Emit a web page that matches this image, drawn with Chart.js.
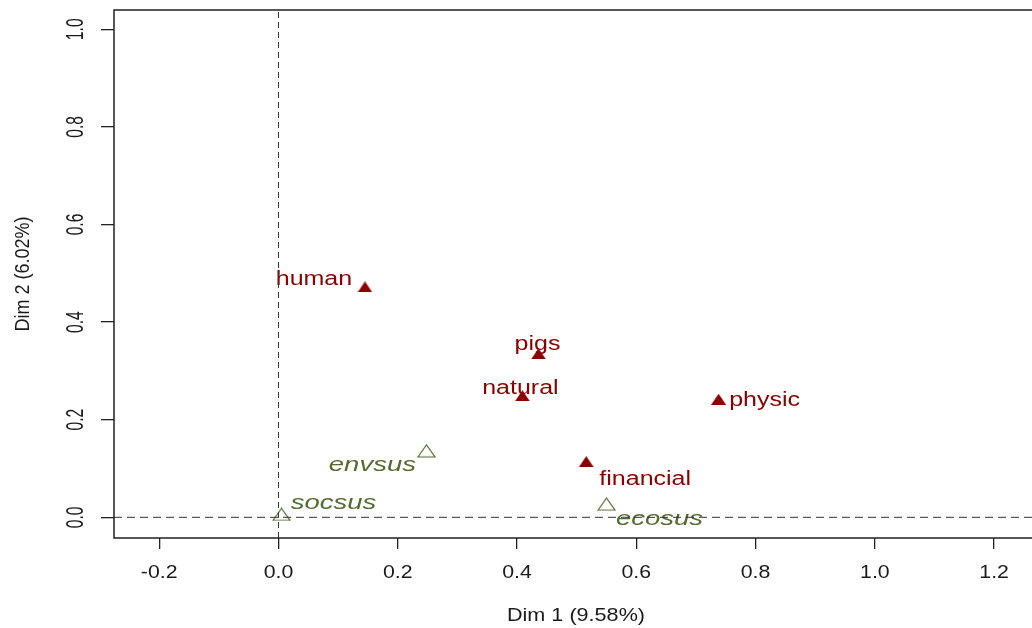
<!DOCTYPE html>
<html>
<head>
<meta charset="utf-8">
<script src="https://cdn.jsdelivr.net/npm/chart.js@4/dist/chart.umd.min.js"></script>
<style>
  html, body { margin: 0; padding: 0; background: #fff; overflow: hidden; }
  #wrap { position: relative; width: 1032px; height: 628px; }
</style>
</head>
<body>
<div id="wrap"><canvas id="c" width="1032" height="628"></canvas></div>
<script>
// Active variable categories (filled triangles)
const activeLabels = ['human', 'pigs', 'natural', 'financial', 'physic'];
const activeDim1 = [0.145, 0.436, 0.409, 0.516, 0.738];
const activeDim2 = [0.472, 0.335, 0.249, 0.114, 0.242];

// Supplementary variables (open triangles)
const suppLabels = ['envsus', 'socsus', 'ecosus'];
const suppDim1 = [0.248, 0.005, 0.550];
const suppDim2 = [0.136, 0.006, 0.027];

// Axis ticks and titles
const xTickValues = [-0.2, 0.0, 0.2, 0.4, 0.6, 0.8, 1.0, 1.2];
const yTickValues = [0.0, 0.2, 0.4, 0.6, 0.8, 1.0];
const xTitle = 'Dim 1 (9.58%)';
const yTitle = 'Dim 2 (6.02%)';

// Axis limits (the plot frame runs off the right edge of the canvas)
const X_MIN = -0.2758, X_MAX = 1.2635;
const Y_MIN = -0.0424, Y_MAX = 1.0395;

// Label placement relative to each marker (pixels, text baseline)
const activeLabelOffsets = [[-51, -2], [-1, -4], [-2, -2], [59, 23], [46, 7]];
const suppLabelOffsets = [[-54, 20], [52, -5], [53, 21]];

const RED = '#8B0000';
const GREEN = '#556B2F';
const INK = '#1a1a1a';
const FONT = '"Liberation Sans", Arial, sans-serif';

function triangleImage(w, h, fill, stroke, lw) {
  const pad = stroke ? 1 : 0;
  const c = document.createElement('canvas');
  c.width = w + 2 * pad; c.height = h + 2 * pad;
  const g = c.getContext('2d');
  g.beginPath();
  g.moveTo(pad, pad + h);
  g.lineTo(pad + w / 2, pad);
  g.lineTo(pad + w, pad + h);
  g.closePath();
  if (fill) { g.fillStyle = fill; g.fill(); }
  if (stroke) { g.strokeStyle = stroke; g.lineWidth = lw; g.stroke(); }
  return c;
}
const filledTri = triangleImage(15, 11, RED, null, 0);
const openTri = triangleImage(17, 12, null, GREEN, 1.2);

// Text drawn with an independent stretch along the writing direction
function drawText(ctx, text, x, y, size, stretch, rot, color, italic) {
  ctx.save();
  ctx.translate(x, y);
  if (rot) ctx.rotate(rot);
  ctx.scale(stretch, 1);
  ctx.font = (italic ? 'italic ' : '') + size + 'px ' + FONT;
  ctx.fillStyle = color;
  ctx.textAlign = 'center';
  ctx.textBaseline = 'alphabetic';
  ctx.fillText(text, 0, 0);
  ctx.restore();
}

const frameAndText = {
  id: 'frameAndText',
  beforeDatasetsDraw(chart) {
    const ctx = chart.ctx;
    const xs = chart.scales.x, ys = chart.scales.y;
    activeLabels.forEach((t, i) => {
      const px = xs.getPixelForValue(activeDim1[i]) + activeLabelOffsets[i][0];
      const py = ys.getPixelForValue(activeDim2[i]) + activeLabelOffsets[i][1];
      drawText(ctx, t, px, py, 20, 1.25, 0, RED, false);
    });
    suppLabels.forEach((t, i) => {
      const px = xs.getPixelForValue(suppDim1[i]) + suppLabelOffsets[i][0];
      const py = ys.getPixelForValue(suppDim2[i]) + suppLabelOffsets[i][1];
      drawText(ctx, t, px, py, 21, 1.31, 0, GREEN, true);
    });
  },
  afterDraw(chart) {
    const ctx = chart.ctx;
    const a = chart.chartArea;
    const xs = chart.scales.x, ys = chart.scales.y;
    // frame: top, left and bottom sides (right side lies beyond the canvas)
    ctx.save();
    ctx.strokeStyle = '#222';
    ctx.lineWidth = 1.5;
    ctx.beginPath();
    ctx.moveTo(a.right + 2, a.top);
    ctx.lineTo(a.left, a.top);
    ctx.lineTo(a.left, a.bottom);
    ctx.lineTo(a.right + 2, a.bottom);
    ctx.stroke();
    ctx.restore();
    xTickValues.forEach(v => {
      drawText(ctx, v.toFixed(1), xs.getPixelForValue(v), 578, 19, 1.12, 0, INK, false);
    });
    yTickValues.forEach(v => {
      drawText(ctx, v.toFixed(1), 83, ys.getPixelForValue(v), 23, 0.68, -Math.PI / 2, INK, false);
    });
    drawText(ctx, xTitle, 576, 621, 19, 1.137, 0, INK, false);
    drawText(ctx, yTitle, 29, (a.top + a.bottom) / 2, 21, 0.857, -Math.PI / 2, INK, false);
  }
};

new Chart(document.getElementById('c'), {
  type: 'scatter',
  data: {
    datasets: [
      {
        label: 'zero-x',
        data: [{ x: 0, y: Y_MIN }, { x: 0, y: Y_MAX }],
        showLine: true, borderColor: '#333', borderWidth: 1, borderDash: [6, 4],
        pointRadius: 0, fill: false
      },
      {
        label: 'zero-y',
        data: [{ x: X_MIN, y: 0 }, { x: X_MAX, y: 0 }],
        showLine: true, borderColor: '#333', borderWidth: 1, borderDash: [8, 5],
        pointRadius: 0, fill: false
      },
      {
        label: 'active',
        data: activeDim1.map((x, i) => ({ x, y: activeDim2[i] })),
        pointStyle: filledTri, pointRadius: 8
      },
      {
        label: 'supplementary',
        data: suppDim1.map((x, i) => ({ x, y: suppDim2[i] })),
        pointStyle: openTri, pointRadius: 9
      }
    ]
  },
  options: {
    responsive: false,
    animation: false,
    devicePixelRatio: 1,
    layout: { autoPadding: false, padding: { top: 10, right: 0, bottom: 0, left: 0 } },
    plugins: { legend: { display: false }, tooltip: { enabled: false } },
    scales: {
      x: {
        type: 'linear', position: 'bottom', min: X_MIN, max: X_MAX,
        grid: { drawOnChartArea: false, drawTicks: true, tickLength: 11, color: '#222', lineWidth: 1.3 },
        border: { display: false },
        ticks: { display: false },
        afterBuildTicks: s => { s.ticks = xTickValues.map(v => ({ value: v })); },
        afterFit: s => { s.height = 90; }
      },
      y: {
        type: 'linear', position: 'left', min: Y_MIN, max: Y_MAX,
        grid: { drawOnChartArea: false, drawTicks: true, tickLength: 13, color: '#222', lineWidth: 1.3 },
        border: { display: false },
        ticks: { display: false },
        afterBuildTicks: s => { s.ticks = yTickValues.map(v => ({ value: v })); },
        afterFit: s => { s.width = 114; }
      }
    }
  },
  plugins: [frameAndText]
});
</script>
</body>
</html>
